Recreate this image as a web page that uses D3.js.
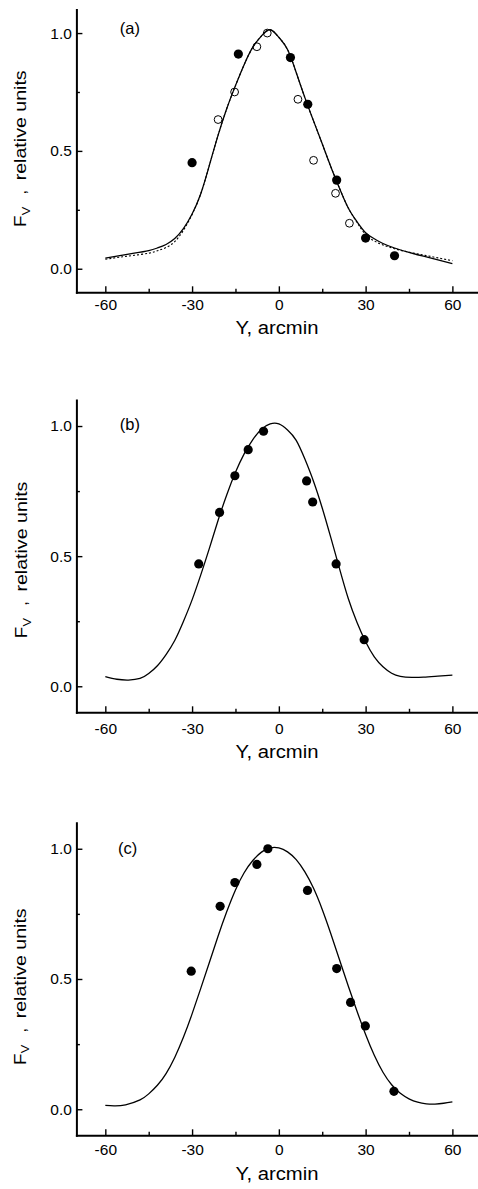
<!DOCTYPE html>
<html>
<head>
<meta charset="utf-8">
<script src="https://cdn.jsdelivr.net/npm/d3@7"></script>
<style>
  body { margin: 0; background: #fff; }
  text { font-family: "Liberation Sans", Arial, Helvetica, sans-serif; fill: #000; }
</style>
</head>
<body>
<svg id="chart" width="478" height="1189"></svg>
<script>
// ---------------- DATA ----------------
const xTicks = [-60, -30, 0, 30, 60];
const xMinorTicks = [-45, -15, 15, 45];
const yTicks = [0.0, 0.5, 1.0];
const yMinorTicks = [0.25, 0.75];
const panelLabels = ["(a)", "(b)", "(c)"];
const xTitle = "Y, arcmin";
const yTitleMain = "F";
const yTitleSub = "V";
const yTitleRest = "relative units";

// Panel (a)
const aCurveX = [-60,-55,-50,-45,-42,-39,-36,-33,-30,-27,-24,-21,-18,-15,-12,-9,-6,-3,0,3,6,9,12,15,18,21,24,27,30,33,36,40,45,50,55,60];
const aSolidY = [0.045,0.056,0.066,0.077,0.088,0.103,0.128,0.170,0.232,0.318,0.440,0.567,0.680,0.777,0.866,0.940,0.988,1.014,0.982,0.930,0.833,0.726,0.627,0.530,0.432,0.341,0.258,0.200,0.153,0.127,0.107,0.088,0.069,0.053,0.038,0.022];
const aDottedY = [0.040,0.049,0.057,0.066,0.076,0.090,0.115,0.163,0.230,0.318,0.440,0.567,0.680,0.777,0.866,0.940,0.988,1.014,0.982,0.930,0.833,0.726,0.627,0.530,0.432,0.341,0.258,0.197,0.145,0.118,0.101,0.085,0.070,0.058,0.046,0.034];
const aFilledX = [-30, -14, 4, 10, 20, 30, 40];
const aFilledY = [0.45, 0.911, 0.896, 0.698, 0.376, 0.13, 0.055];
const aOpenX = [-21, -15.3, -7.6, -4, 6.6, 12, 19.6, 24.4];
const aOpenY = [0.633, 0.75, 0.942, 1.0, 0.719, 0.46, 0.32, 0.193];

// Panel (b)
const bCurveX = [-60,-56,-52,-48,-45,-42,-39,-36,-33,-30,-27,-24,-21,-18,-15,-12,-9,-6,-3,0,3,6,9,12,15,18,21,24,27,30,33,36,39,42,46,50,55,60];
const bCurveY = [0.037,0.027,0.024,0.030,0.049,0.079,0.122,0.176,0.249,0.332,0.428,0.531,0.638,0.736,0.822,0.893,0.948,0.988,1.008,1.008,0.985,0.945,0.873,0.787,0.685,0.570,0.451,0.337,0.246,0.171,0.113,0.075,0.050,0.038,0.034,0.035,0.039,0.043];
const bFilledX = [-27.7, -20.5, -15.2, -10.6, -5.3, 9.6, 11.7, 19.8, 29.5];
const bFilledY = [0.47, 0.668, 0.809, 0.909, 0.98, 0.789, 0.708, 0.47, 0.179];

// Panel (c)
const cCurveX = [-60,-57,-53,-48,-45,-42,-39,-36,-33,-30,-27,-24,-21,-18,-15,-12,-9,-6,-3,0,3,6,9,12,15,18,21,24,27,30,33,36,39,42,45,48,51,54,57,60];
const cCurveY = [0.015,0.013,0.017,0.036,0.059,0.092,0.137,0.199,0.276,0.366,0.464,0.564,0.665,0.759,0.842,0.908,0.955,0.987,1.003,1.003,0.988,0.958,0.911,0.848,0.767,0.673,0.573,0.473,0.377,0.287,0.207,0.142,0.094,0.061,0.040,0.027,0.021,0.020,0.023,0.028];
const cFilledX = [-30.3, -20.3, -15.2, -7.6, -3.8, 9.9, 20, 24.8, 29.9, 39.8];
const cFilledY = [0.53, 0.779, 0.87, 0.94, 1.0, 0.84, 0.54, 0.41, 0.32, 0.069];

const xDomain = [-70, 70];
const yDomain = [-0.1, 1.1];

// ---------------- LAYOUT ----------------
const panels = [
  { top: 9.5,  bottom: 292.3,  xPad: 7,  titleY: 334.3,  yTitleX: 26,   yTitleY: 227,    labelX: -55, labelY: 0.994,
    lines: [ {xs: aCurveX, ys: aSolidY, dash: null}, {xs: aCurveX, ys: aDottedY, dash: "2,2"} ],
    filled: [aFilledX, aFilledY], open: [aOpenX, aOpenY] },
  { top: 400,  bottom: 712.3,  xPad: 11, titleY: 758,    yTitleX: 27.3, yTitleY: 638.3,  labelX: -55, labelY: 0.985,
    lines: [ {xs: bCurveX, ys: bCurveY, dash: null} ],
    filled: [bFilledX, bFilledY], open: null },
  { top: 822.7, bottom: 1135.3, xPad: 8.3, titleY: 1179.5, yTitleX: 25.5, yTitleY: 1065,  labelX: -55.6, labelY: 0.98,
    lines: [ {xs: cCurveX, ys: cCurveY, dash: null} ],
    filled: [cFilledX, cFilledY], open: null }
];

const svg = d3.select("#chart");
svg.append("rect").attr("width", 478).attr("height", 1189).attr("fill", "#fff");

const x = d3.scaleLinear().domain(xDomain).range([76.4, 481.3]);

panels.forEach((p, i) => {
  const y = d3.scaleLinear().domain(yDomain).range([p.bottom, p.top]);
  const g = svg.append("g");

  // curves
  p.lines.forEach(L => {
    const pts = L.xs.map((xv, k) => [xv, L.ys[k]]);
    const line = d3.line().x(d => x(d[0])).y(d => y(d[1])).curve(d3.curveNatural);
    g.append("path").datum(pts).attr("d", line)
      .attr("fill", "none").attr("stroke", "#000")
      .attr("stroke-width", L.dash ? 1.1 : 1.3)
      .attr("stroke-dasharray", L.dash);
  });

  // open markers
  if (p.open) {
    const pts = p.open[0].map((xv, k) => [xv, p.open[1][k]]);
    g.selectAll("circle.open").data(pts).enter().append("circle")
      .attr("class", "open").attr("cx", d => x(d[0])).attr("cy", d => y(d[1])).attr("r", 3.9)
      .attr("fill", "none").attr("stroke", "#000").attr("stroke-width", 1);
  }
  // filled markers
  const fpts = p.filled[0].map((xv, k) => [xv, p.filled[1][k]]);
  g.selectAll("circle.filled").data(fpts).enter().append("circle")
    .attr("class", "filled").attr("cx", d => x(d[0])).attr("cy", d => y(d[1])).attr("r", 4.6)
    .attr("fill", "#000");

  // x axis (major)
  const xa = g.append("g").attr("transform", `translate(0,${p.bottom})`)
    .call(d3.axisBottom(x).tickValues(xTicks).tickFormat(d => String(d))
      .tickSizeInner(-6).tickSizeOuter(0).tickPadding(p.xPad));
  xa.select(".domain").attr("stroke-width", 2).attr("stroke-linecap", "square");
  xa.selectAll(".tick line").attr("stroke-width", 1.4);
  xa.selectAll("text").attr("font-size", 15.5).attr("font-family", "Liberation Sans, Arial, sans-serif");
  // x axis (minor)
  const xm = g.append("g").attr("transform", `translate(0,${p.bottom})`)
    .call(d3.axisBottom(x).tickValues(xMinorTicks).tickFormat("").tickSizeInner(-3.5).tickSizeOuter(0));
  xm.select(".domain").remove();
  xm.selectAll(".tick line").attr("stroke-width", 1.4);

  // y axis (major)
  const ya = g.append("g").attr("transform", `translate(${x(xDomain[0])},0)`)
    .call(d3.axisLeft(y).tickValues(yTicks).tickFormat(d3.format(".1f"))
      .tickSizeInner(-6).tickSizeOuter(0).tickPadding(4.5));
  ya.select(".domain").attr("stroke-width", 2).attr("stroke-linecap", "square");
  ya.selectAll(".tick line").attr("stroke-width", 1.4);
  ya.selectAll("text").attr("font-size", 15.5).attr("font-family", "Liberation Sans, Arial, sans-serif");
  // y axis (minor)
  const ym = g.append("g").attr("transform", `translate(${x(xDomain[0])},0)`)
    .call(d3.axisLeft(y).tickValues(yMinorTicks).tickFormat("").tickSizeInner(-3.5).tickSizeOuter(0));
  ym.select(".domain").remove();
  ym.selectAll(".tick line").attr("stroke-width", 1.4);

  // x title
  g.append("text").attr("x", 277).attr("y", p.titleY)
    .attr("text-anchor", "middle").attr("font-size", 17.5)
    .attr("textLength", 83).attr("lengthAdjust", "spacingAndGlyphs")
    .text(xTitle);

  // y title
  const yt = g.append("text")
    .attr("transform", `translate(${p.yTitleX},${p.yTitleY}) rotate(-90)`)
    .attr("font-size", 16.5);
  yt.append("tspan").attr("x", 0).attr("y", 0)
    .attr("textLength", 11.5).attr("lengthAdjust", "spacingAndGlyphs").text(yTitleMain);
  yt.append("tspan").attr("x", 11.8).attr("y", 3.8).attr("font-size", 10)
    .attr("textLength", 8.5).attr("lengthAdjust", "spacingAndGlyphs").text(yTitleSub);
  yt.append("tspan").attr("x", 32.5).attr("y", 0).text(",");
  yt.append("tspan").attr("x", 46.7).attr("y", 0)
    .attr("textLength", 110).attr("lengthAdjust", "spacingAndGlyphs").text(yTitleRest);

  // panel label
  g.append("text").attr("x", x(p.labelX)).attr("y", y(p.labelY))
    .attr("font-size", 16.5).text(panelLabels[i]);
});
</script>
</body>
</html>
